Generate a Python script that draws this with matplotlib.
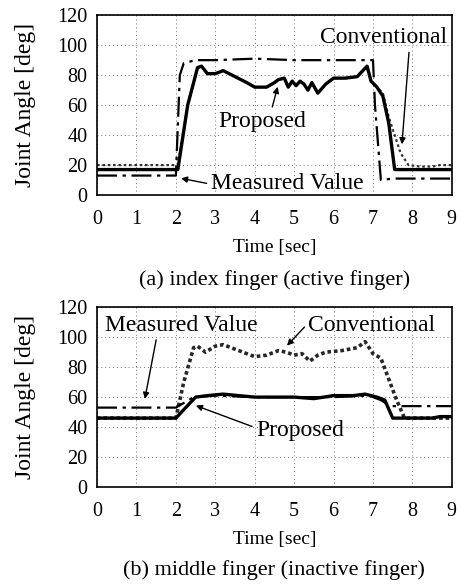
import matplotlib.pyplot as plt

plt.rcParams['font.family'] = ['Liberation Serif', 'DejaVu Serif']

# (a) index finger (active finger)
a_meas_t = [0, 2.0, 2.1, 2.2, 2.5, 3.0, 4.0, 5.0, 6.0, 7.0, 7.05, 7.2, 7.5, 8.0, 8.5, 9.0]
a_meas_y = [13, 13, 80, 88, 90, 90, 91, 90, 90, 90, 60, 10, 11, 11, 11, 11]

a_prop_t = [0, 2.05, 2.3, 2.55, 2.65, 2.8, 3.0, 3.2, 3.5, 3.8, 4.0, 4.3, 4.5, 4.6,
            4.75, 4.85, 4.95, 5.05, 5.15, 5.25, 5.35, 5.45, 5.6, 5.8, 6.0, 6.3,
            6.6, 6.85, 6.95, 7.1, 7.25, 7.4, 7.55, 8.0, 8.5, 9.0]
a_prop_y = [17, 17, 60, 85, 86, 81, 81, 83, 79, 75, 72, 72, 75, 77,
            78, 72, 76, 73, 76, 74, 70, 75, 68, 74, 78, 78,
            79, 86, 76, 72, 66, 48, 17, 17, 17, 17]

a_conv_t = [0, 2.05, 2.3, 2.55, 2.65, 2.8, 3.0, 3.2, 3.5, 3.8, 4.0, 4.3, 4.5, 4.6,
            4.75, 4.85, 4.95, 5.05, 5.15, 5.25, 5.35, 5.45, 5.6, 5.8, 6.0, 6.3,
            6.6, 6.85, 6.95, 7.1, 7.25, 7.4, 7.55, 7.7, 7.9, 8.2, 8.5, 8.7, 9.0]
a_conv_y = [20, 20, 60, 85, 86, 81, 81, 83, 79, 75, 72, 72, 75, 77,
            78, 72, 76, 73, 76, 74, 70, 75, 68, 74, 78, 78,
            79, 86, 76, 72, 68, 52, 40, 28, 20, 19, 19, 20, 20]

# (b) middle finger (inactive finger)
b_meas_t = [0, 2.0, 2.45, 3.0, 4.0, 5.0, 6.0, 6.9, 7.2, 7.45, 8.0, 9.0]
b_meas_y = [53, 53, 60, 61, 60, 60, 60, 61, 58, 54, 54, 54]

b_prop_t = [0, 2.0, 2.5, 2.8, 3.2, 3.6, 4.0, 4.5, 5.0, 5.5, 6.0, 6.5, 6.8, 7.1, 7.3, 7.5, 8.0, 8.5, 8.7, 9.0]
b_prop_y = [46, 46, 60, 61, 62, 61, 60, 60, 60, 59, 61, 61, 62, 60, 58, 46, 46, 46, 47, 47]

b_conv_t = [0, 2.0, 2.2, 2.45, 2.55, 2.75, 3.0, 3.2, 3.5, 3.8, 4.0, 4.3, 4.6, 4.8,
            5.0, 5.2, 5.4, 5.6, 5.8, 6.2, 6.6, 6.8, 7.0, 7.2, 7.4, 7.6, 7.8, 9.0]
b_conv_y = [46, 46, 70, 93, 94, 90, 94, 95, 92, 89, 87, 88, 91, 90,
            88, 89, 84, 88, 90, 91, 93, 97, 89, 86, 72, 58, 46, 46]

xticks = list(range(0, 10))
yticks = list(range(0, 121, 20))

fig = plt.figure(figsize=(4.62, 5.84), dpi=100)
ax1 = fig.add_axes([0.21, 0.666, 0.768, 0.308])
ax2 = fig.add_axes([0.21, 0.166, 0.768, 0.308])

def setup(ax, caption, ypos):
    ax.set_xlim(0, 9)
    ax.set_ylim(0, 120)
    ax.set_xticks(xticks)
    ax.set_yticks(yticks)
    ax.tick_params(labelsize=14.5, length=0)
    ax.tick_params(axis='x', pad=11)
    ax.tick_params(axis='y', pad=7)
    ax.grid(True, color='0.45', linestyle=(0, (1, 3)), linewidth=0.7)
    ax.set_xlabel('Time [sec]', fontsize=14, labelpad=7)
    ax.set_ylabel('Joint Angle [deg]', fontsize=17, labelpad=15)
    for s in ax.spines.values():
        s.set_linewidth(1.2)
    ax.text(0.5, ypos, caption, transform=ax.transAxes, ha='center',
            va='center', fontsize=16)

def arrow(rel=(0.5, 0.5)):
    return dict(arrowstyle='-|>', color='black', lw=1.0, mutation_scale=9,
                relpos=rel, shrinkA=1)

dashdot = (0, (9, 2.5, 1.5, 2.5))

ax1.plot(a_conv_t, a_conv_y, color='0.2', linestyle=(0, (1.2, 1.2)), linewidth=1.6)
ax1.plot(a_meas_t, a_meas_y, color='black', linestyle=dashdot, linewidth=1.6)
ax1.plot(a_prop_t, a_prop_y, color='black', linestyle='-', linewidth=2.4)
setup(ax1, '(a) index finger (active finger)', -0.47)

ax1.annotate('Conventional', xy=(7.73, 32), xytext=(7.28, 105), fontsize=17,
             ha='center', va='center', arrowprops=arrow((0.7, 0.1)))
ax1.annotate('Proposed', xy=(4.6, 74), xytext=(4.18, 49), fontsize=17,
             ha='center', va='center', arrowprops=arrow((0.6, 0.9)))
ax1.annotate('Measured Value', xy=(2.06, 11.5), xytext=(4.82, 8), fontsize=17,
             ha='center', va='center', arrowprops=arrow((0.0, 0.45)))

ax2.plot(b_conv_t, b_conv_y, color='0.15', linestyle=(0, (1, 0.8)), linewidth=2.6)
ax2.plot(b_meas_t, b_meas_y, color='black', linestyle=dashdot, linewidth=1.6)
ax2.plot(b_prop_t, b_prop_y, color='black', linestyle='-', linewidth=2.4)
setup(ax2, '(b) middle finger (inactive finger)', -0.46)

ax2.annotate('Measured Value', xy=(1.2, 57), xytext=(2.15, 108), fontsize=17,
             ha='center', va='center', arrowprops=arrow((0.34, 0.1)))
ax2.annotate('Conventional', xy=(4.77, 93), xytext=(6.97, 108), fontsize=17,
             ha='center', va='center', arrowprops=arrow((0.0, 0.6)))
ax2.annotate('Proposed', xy=(2.44, 55), xytext=(5.15, 38), fontsize=17,
             ha='center', va='center', arrowprops=arrow((0.0, 0.6)))

fig.savefig('out.png', dpi=100)
